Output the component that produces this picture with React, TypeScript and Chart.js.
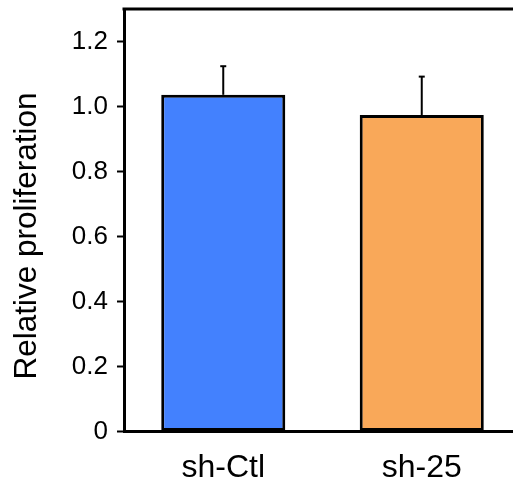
import React, { useEffect, useRef } from "react";
import { Chart, registerables } from "chart.js";

Chart.register(...registerables);

const categories = ["sh-Ctl", "sh-25"];
const values = [1.036, 0.974];
const errors = [0.088, 0.118];
const barColors = ["#4381fe", "#f9a859"];
const yTickValues = [0, 0.2, 0.4, 0.6, 0.8, 1.0, 1.2];
const yTitle = "Relative proliferation";

const FONT = "'Liberation Sans', Arial, sans-serif";

const extrasPlugin = {
  id: "extras",
  afterDatasetsDraw(chart: any) {
    const ctx = chart.ctx;
    const area = chart.chartArea;
    const meta = chart.getDatasetMeta(0);
    const y = chart.scales.y;
    ctx.save();
    ctx.strokeStyle = "#000";
    ctx.lineWidth = 2;
    meta.data.forEach((bar: any, i: number) => {
      const x = bar.x;
      const yTop = y.getPixelForValue(values[i]);
      const yErr = y.getPixelForValue(values[i] + errors[i]);
      ctx.beginPath();
      ctx.moveTo(x, yTop);
      ctx.lineTo(x, yErr);
      ctx.stroke();
      ctx.beginPath();
      ctx.moveTo(x - 3, yErr);
      ctx.lineTo(x + 3, yErr);
      ctx.stroke();
    });
    ctx.lineWidth = 3;
    ctx.beginPath();
    ctx.moveTo(area.left - 1.5, area.top);
    ctx.lineTo(chart.width, area.top);
    ctx.stroke();

    // y axis title
    ctx.fillStyle = "#000";
    ctx.font = "31.5px " + FONT;
    ctx.textAlign = "center";
    ctx.textBaseline = "alphabetic";
    ctx.translate(36, 236);
    ctx.rotate(-Math.PI / 2);
    ctx.fillText(yTitle, 0, 0);
    ctx.restore();
  },
};

export default function App() {
  const ref = useRef<HTMLCanvasElement>(null);
  useEffect(() => {
    if (!ref.current) return;
    const chart = new Chart(ref.current, {
      type: "bar",
      data: {
        labels: categories,
        datasets: [
          {
            data: values,
            backgroundColor: barColors,
            borderColor: "#000",
            borderWidth: 3,
            borderSkipped: false,
            categoryPercentage: 1,
            barPercentage: 0.625,
          },
        ],
      },
      options: {
        responsive: false,
        animation: false,
        maintainAspectRatio: false,
        layout: { padding: { top: 9, right: 1, left: 0, bottom: 0 } },
        plugins: { legend: { display: false }, tooltip: { enabled: false } },
        scales: {
          x: {
            type: "category",
            offset: true,
            grid: { display: false, drawTicks: false },
            border: { display: true, color: "#000", width: 3 },
            afterFit: (scale: any) => {
              scale.paddingLeft = 0;
              scale.paddingRight = 0;
            },
            ticks: {
              color: "#000",
              font: { family: FONT, size: 32 },
              padding: 17,
            },
          },
          y: {
            min: 0,
            max: 1.3,
            afterBuildTicks: (scale: any) => {
              scale.ticks = yTickValues.map((v) => ({ value: v }));
            },
            afterFit: (scale: any) => {
              scale.width = 124;
              scale.paddingTop = 0;
              scale.paddingBottom = 0;
            },
            grid: {
              drawOnChartArea: false,
              drawTicks: true,
              tickLength: 7,
              tickColor: "#000",
              tickWidth: 2,
              color: "#000",
            },
            border: { display: true, color: "#000", width: 3 },
            ticks: {
              color: "#000",
              font: { family: FONT, size: 26 },
              padding: 9,
              callback: (v: any) => (Number(v) === 0 ? "0" : Number(v).toFixed(1)),
            },
          },
        },
      },
      plugins: [extrasPlugin],
    });
    return () => chart.destroy();
  }, []);
  return (
    <div
      style={{
        position: "fixed",
        left: 0,
        top: 0,
        width: 513,
        height: 479,
        overflow: "hidden",
        background: "#fff",
      }}
    >
      <canvas ref={ref} width={522} height={504} style={{ display: "block" }} />
    </div>
  );
}
